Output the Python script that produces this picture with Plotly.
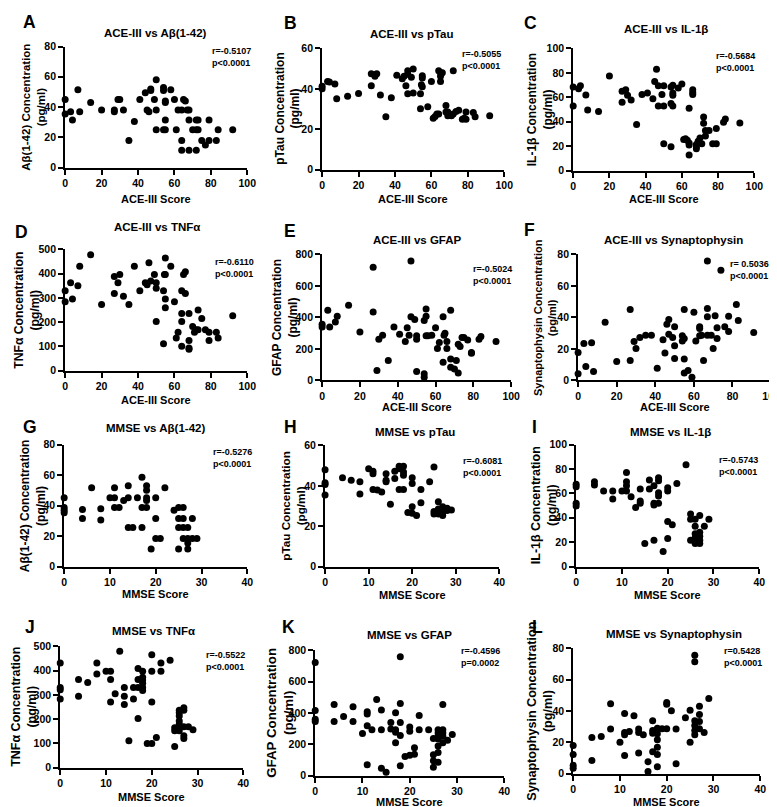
import plotly.graph_objects as go

W, H = 777, 807

# ---------------- data ----------------
ace_ab_x = [0,0,3,4,7,8,14,20,27,27,29,30,32,35,38,41,44,45,46,47,47,49,50,50,50,54,54,55,55,55,54,55,58,60,61,62,64,64,64,65,66,67,68,68,68,70,72,73,72,73,72,75,77,79,79,83,84,92]
ace_ab_y = [45,35.5,37,31.5,51.5,37,43,38,38,37,45,45,38,18,30.5,45,49.5,38,37,52,51,45,58,38,25,53,51,44,43,31.5,25,25,51.5,45,25,38,38,18,11.5,45,44,38,38,31.5,11.5,25,31.5,31.5,25,25,11.5,18,15,31.5,18,18,25,25]

ace_ptau_x = [0,0,3,4,7,8,14,20,27,27,29,30,29,32,38,35,41,44,45,46,47,47,47,49,50,50,54,54,54.5,55,55,55,58,60,61,62,63,64,64,65,65,65,66,68,68,69,69,71,72,72,73.5,75,77,78,79,79,83,84,92]
ace_ptau_y = [41.3,40,43.7,43.4,42.4,35.1,36.4,37.7,47.5,41.6,47,47.5,46.2,37,35.6,26.2,46.7,45,46.2,41.5,47.3,49,37.6,45.7,38,49.8,37.6,30.2,42,41,46.5,45.4,31.2,43.7,25.4,26.3,27.5,27.5,49,48,46.2,43.7,48,31.8,28.6,26.7,28.6,26.7,27.5,49,28.8,29.4,25,25.4,28.6,25,28.3,26.2,26.7]

ace_il_x = [0,0,3,4,7,8,14,20,27,27,29,30,32,35,38,41,44,45,46,47,47,49,50,50,50,54,54,55,54,55,55,55,58,60,61,62,63,64,64,64,64,66,66,66,68,68,68,69,70,71,72,72,73,73,75,77,79,79,83,84,92]
ace_il_y = [68.4,53,67,69.5,62,49.7,48.4,77.5,65,56,66.3,61.8,57.8,37.7,62.3,63.6,58.8,73,83,69.5,53,62.3,69.5,53,22,19.5,55,53,68.4,69.8,63.6,61.8,67.6,70.9,25.4,26.2,24.9,51,22.7,20.9,12.8,66.3,64,62.3,19.5,21.4,18,24,26.7,22,44,38.8,32.9,28.3,32.9,22,22,34.5,39.6,42.2,39]

ace_tnf_x = [0,0,3,4,7,8,14,20,27,27,29,30,32,35,38,41,44,45,46,47,49,50,50,50,54,54,54.5,55,55,55,55,58,60,61,62,64,64,64,64,65,66,66,68,68,68,68,70,71,72,73,73,75,77,79,79,83,84,92]
ace_tnf_y = [330,284,363,296,350,431,478,273,388,318,363,397,307,273,431,330,363,354,445,370,397,363,340,203,330,111,397,397,465,296,259,431,284,135,158,330,236,203,101,397,408,318,236,124,93,88,182,158,169,169,250,215,169,158,124,158,135,226]

ace_gfap_x = [0,0,3,4,7,8,14,20,27,27,29,30,32,35,38,41,44,45,46,47,47,49,50,50,50,54,54,54,55,55,55,56,58,60,61,62,64,64,64.5,65,66,66,68,68,68,70,71,72,72,73,74,75,77,79,79,83,84,92]
ace_gfap_y = [356,339,446,339,371,408,477,308,718,434,63,262,287,126,339,293,247,335,287,758,404,387,283,262,57,381,42,21,454,408,283,283,287,335,203,241,404,115,287,300,247,203,446,136,84,73,126,48,230,216,272,272,256,178,172,262,279,247]

ace_syn_x = [0,0,3,4,7,8,14,20,27,27,29,30,32,35,38,41,44,45,46,47,47,49,50,50,50,54,54,55,55,55,55,57,59,60,61,63,63,63,64,65,67,67,67,67,69,70,71,72,72,74,76,78,78,82,83,91]
ace_syn_y = [17.8,4.2,23.5,8.8,24,5.7,37,12,45,12.6,24.7,20.3,27.2,28.7,28.7,7.7,25.8,17.4,35.6,38.7,29.3,27.2,34.1,22,14,28.3,25.1,45,26.6,13.6,4.8,6.3,2,43.3,25.1,34.1,33,28.3,28.7,12.6,45.6,40.4,28.7,75.8,28.7,20.3,41,33.5,26.6,70,34.1,40.8,31,48.2,38.1,30.4]

mmse_ab_x = [0,0,0,0,4,4,6,8,8,10,11,11,11,12,13,14,14,14,15,16,17,17,17,18,18,18,18,18,19,20,20,20,21,22,24,25,26,25,26,25,26,25,26,27,27,27,27,28,28,29]
mmse_ab_y = [45.2,38.7,37,35.3,37.4,31.6,51.6,38,30.5,45.2,51.6,45.2,38.7,38.7,43.4,53,45.2,25.6,25.6,45.2,58.5,38.7,25.6,53,50,43.4,38.7,45.2,11.6,45.2,31.6,18.5,18.5,51.6,37,38.7,38.7,31.6,31.6,25.6,25.6,11.6,18.5,25.6,18.5,15.5,11.6,31.6,18.5,18.5]

mmse_ptau_x = [0,0,0,0,4,6,8,8,10,11,11,11,12,13,14,14,14,15,16,16,17,17,17,18,18,18,18,19,20,20,20,20,21,22,22,24,25,25,25,26,26,26,27,27,27,28,29,26,27,28]
mmse_ptau_y = [48,41.5,40.7,35.5,44,42.8,42,36,48.5,47.2,46,38.2,38,37,46,42.8,42,30.9,43.6,47.2,49.7,48.5,38.2,38.2,49.7,46.9,45.3,26.8,44,41.2,29.7,26.5,25.3,38.2,31.7,42,49.3,27.3,26.1,27.6,26.1,32.2,29.7,28.1,25.3,28.9,28.1,28.5,27,27.8]

mmse_il_x = [0,0,0,0,4,4,6,8,8,10,11,11,11,11,12,13,14,14,14,15,16,16,17,17,17,17,18,18,18,18,18,19,20,20,20,20,21,22,24,25,25,25,26,26,26,26,26,27,27,27,27,27,28,29]
mmse_il_y = [67.5,65.4,51.9,49.7,69.5,66.8,61.9,61.9,55.4,61.9,77,69.5,66.2,61.9,57.3,48.4,63.5,53.8,51.9,19,63.5,71,66.2,51.9,50.5,21.6,72.7,70.3,60.5,57.8,51.9,12.4,64.6,61.9,37,23,34.3,68.1,83.5,43.2,38.9,21.6,38.9,33,27,23.5,19,41.9,28.1,24.9,21.6,19,33,38.9]

mmse_tnf_x = [0,0,0,0,4,4,6,8,8,10,11,11,11,12,13,14,14,14,15,16,16,17,17,17,17,18,18,18,18,18,18,19,20,20,20,20,21,22,22,24,25,25,25,26,26,26,26,26,26,26,27,27,27,27,27,28,29]
mmse_tnf_y = [432,331,321,283,364,294,351,432,386,398,398,364,271,305,480,331,294,260,111,283,331,409,364,331,203,398,373,362,348,331,318,100,100,466,398,271,124,432,398,443,87,165,152,237,226,213,192,179,165,152,247,237,169,131,120,169,156]

mmse_gfap_x = [0,0,0,0,4,4,6,8,8,10,11,11,11,11,12,13,14,14,14,15,16,16,17,17,17,17,18,18,18,18,18,19,20,20,20,21,21,22,22,24,25,25,25,25,26,26,26,26,26,26,26,27,27,27,27,27,28,29]
mmse_gfap_y = [722,415,360,345,454,345,377,440,345,268,408,394,318,69,293,486,419,293,46,21,339,297,402,293,276,209,760,461,339,255,63,121,310,283,130,136,178,383,293,293,237,132,94,52,293,272,251,234,188,147,84,454,293,272,251,209,226,262]

mmse_syn_x = [0,0,0,0,4,4,6,8,8,10,11,11,11,11,12,13,14,14,14,15,16,16,17,17,17,17,18,18,18,18,18,18,19,20,20,20,21,22,22,24,25,25,26,26,26,26,26,26,27,27,27,27,28,29]
mmse_syn_y = [17.9,12.2,5.3,3.4,23.1,8.4,23.7,44.7,28.4,20,38.4,26.3,24.8,11.6,26.9,37,28.4,26.3,13.2,24.8,7.6,1.3,33.8,27.5,25.8,13.9,29,25.4,21.6,16.8,12.2,4.4,28.6,45.4,44.3,28.6,40.1,28.4,6.3,35.7,40.5,20,75.6,71.4,33.8,30.7,27.5,24.8,43,37.8,33.2,28.6,26.3,47.9]

letters = ["A","B","C","D","E","F","G","H","I","J","K","L"]
titles = ["ACE-III vs Aβ(1-42)","ACE-III vs pTau","ACE-III vs IL-1β",
          "ACE-III vs TNFα","ACE-III vs GFAP","ACE-III vs Synaptophysin",
          "MMSE vs Aβ(1-42)","MMSE vs pTau","MMSE vs IL-1β",
          "MMSE vs TNFα","MMSE vs GFAP","MMSE vs Synaptophysin"]
xlabels = ["ACE-III Score"]*6 + ["MMSE Score"]*6
ylabels = ["Aβ(1-42) Concentration","pTau Concentration","IL-1β Concentration",
           "TNFα Concentration","GFAP Concentration","Synaptophysin Concentration"]*2
stats = [("r=-0.5107","p<0.0001"),("r=-0.5055","p<0.0001"),("r=-0.5684","p<0.0001"),
         ("r=-0.6110","p<0.0001"),("r=-0.5024","p<0.0001"),("r= 0.5036","p<0.0001"),
         ("r=-0.5276","p<0.0001"),("r=-0.6081","p<0.0001"),("r=-0.5743","p<0.0001"),
         ("r=-0.5522","p<0.0001"),("r=-0.4596","p=0.0002"),("r=0.5428","p<0.0001")]
xmax = [100]*6 + [40]*6
xdtick = [20]*6 + [10]*6
ymax = [80,60,100,500,800,80]*2
ydtick = [20,20,20,100,200,20]*2

xs = [ace_ab_x, ace_ptau_x, ace_il_x, ace_tnf_x, ace_gfap_x, ace_syn_x,
      mmse_ab_x, mmse_ptau_x, mmse_il_x, mmse_tnf_x, mmse_gfap_x, mmse_syn_x]
ys = [ace_ab_y, ace_ptau_y, ace_il_y, ace_tnf_y, ace_gfap_y, ace_syn_y,
      mmse_ab_y, mmse_ptau_y, mmse_il_y, mmse_tnf_y, mmse_gfap_y, mmse_syn_y]

# ---------------- layout (pixels) ----------------
rects = [(55,240,33,156),(316,501,35,158),(571,755,35,159),
         (55,240,239,362),(316,508,244,372),(576,772,244,372),
         (54,240,437,561),(319,496,438,561),(574,760,437,561),
         (50,236,642,765),(309,501,646,773),(571,761,644,771)]
title_pos = [(147,19),(407,20),(665,15),(148,216),(413,229),(673,229),
             (147,420),(410,424),(670,424),(145,626),(405,630),(673,629)]
letter_pos = [(10,8),(275,9),(519,9),(2,221),(275,220),(519,219),
              (10,419),(275,419),(527,419),(12,622),(273,622),(527,622)]
xtitle_y = [188,188,188,392,399,399,589,590,590,795,800,800]
ytitle_x = [22,281,537,16,279,543,22,286,541,13,273,537]
ytitle_size = [11.5,12,12,12.2,12,11,12,11.7,12.5,12.5,13.3,12.6]
stat_pos = [(202,30),(456,33),(714,36),(205,245),(467,252),(728,247),
            (203,438),(457,447),(717,446),(196,644),(455,640),(722,640)]

FONT = "Liberation Sans, Arial, sans-serif"

def px(x):
    return x / W

def py(y):
    return 1 - y / H

fig = go.Figure()
annotations = []
layout_axes = {}

for i in range(12):
    n = "" if i == 0 else str(i + 1)
    x0, x1, y0, y1 = rects[i]
    fig.add_trace(go.Scatter(
        x=xs[i], y=ys[i], mode="markers",
        marker=dict(color="black", size=7, line=dict(width=0)),
        xaxis="x" + n, yaxis="y" + n, cliponaxis=False, showlegend=False,
        hoverinfo="x+y"))
    axcommon = dict(showgrid=False, zeroline=False, showline=True, linecolor="black",
                    linewidth=2, ticks="outside", ticklen=5, tickwidth=2, tickcolor="black",
                    tickfont=dict(family=FONT, size=10.5, color="black", weight="bold"))
    layout_axes["xaxis" + n] = dict(axcommon, domain=[px(x0), px(x1)], range=[0, xmax[i]],
                                    dtick=xdtick[i], tick0=0, anchor="y" + n)
    layout_axes["yaxis" + n] = dict(axcommon, domain=[py(y1), py(y0)], range=[0, ymax[i]],
                                    dtick=ydtick[i], tick0=0, anchor="x" + n)
    lx, ly = letter_pos[i]
    annotations.append(dict(text=letters[i], x=px(lx), y=py(ly), xref="paper", yref="paper",
                            xanchor="left", yanchor="middle", showarrow=False,
                            font=dict(family=FONT, size=17.5, color="black", weight="bold")))
    tx, ty = title_pos[i]
    annotations.append(dict(text=titles[i], x=px(tx), y=py(ty), xref="paper", yref="paper",
                            xanchor="center", yanchor="middle", showarrow=False,
                            font=dict(family=FONT, size=11.5, color="black", weight="bold")))
    annotations.append(dict(text=xlabels[i], x=px((x0 + x1) / 2), y=py(xtitle_y[i]),
                            xref="paper", yref="paper", xanchor="center", yanchor="middle",
                            showarrow=False,
                            font=dict(family=FONT, size=11, color="black", weight="bold")))
    annotations.append(dict(text=ylabels[i] + "<br>(pg/ml)", x=px(ytitle_x[i]),
                            y=py((y0 + y1) / 2), xref="paper", yref="paper",
                            xanchor="center", yanchor="middle", textangle=-90,
                            showarrow=False,
                            font=dict(family=FONT, size=ytitle_size[i], color="black",
                                      weight="bold")))
    sx, sy = stat_pos[i]
    r_txt, p_txt = stats[i]
    annotations.append(dict(text=r_txt + "<br>" + p_txt.replace("<", "&lt;"),
                            x=px(sx), y=py(sy), xref="paper", yref="paper",
                            xanchor="left", yanchor="top", align="left", showarrow=False,
                            font=dict(family=FONT, size=9, color="black", weight="bold")))

fig.update_layout(
    width=W, height=H, margin=dict(l=0, r=0, t=0, b=0),
    paper_bgcolor="white", plot_bgcolor="white",
    annotations=annotations, **layout_axes)

fig.write_html("out.html")
